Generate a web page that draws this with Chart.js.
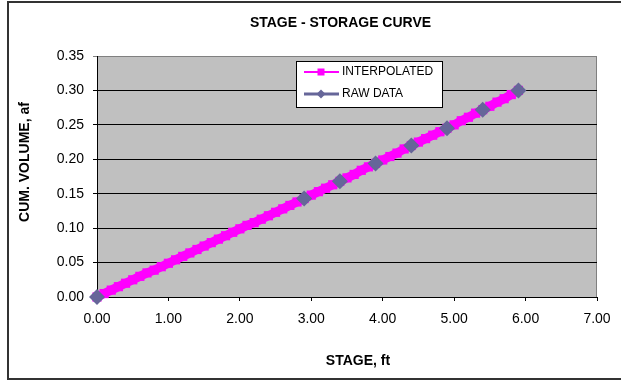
<!DOCTYPE html>
<html>
<head>
<meta charset="utf-8">
<script src="https://cdn.jsdelivr.net/npm/chart.js@4/dist/chart.umd.min.js"></script>
<style>
  html, body { margin: 0; padding: 0; background: #fff; }
  canvas { display: block; }
</style>
</head>
<body>
<canvas id="stageChart" width="621" height="381"></canvas>
<script>
// raw survey points, stage (ft) vs cumulative volume (af)
const rawStage = [0.0, 2.9, 3.4, 3.9, 4.4, 4.9, 5.4, 5.9];
const rawVolume = [0.000, 0.143, 0.168, 0.194, 0.220, 0.245, 0.272, 0.300];

// interpolated table
const interpStage = [
    0.0, 0.1, 0.2, 0.3, 0.4, 0.5, 0.6, 0.7, 0.8, 0.9,
    1.0, 1.1, 1.2, 1.3, 1.4, 1.5, 1.6, 1.7, 1.8, 1.9,
    2.0, 2.1, 2.2, 2.3, 2.4, 2.5, 2.6, 2.7, 2.8, 2.9,
    3.0, 3.1, 3.2, 3.3, 3.4, 3.5, 3.6, 3.7, 3.8, 3.9,
    4.0, 4.1, 4.2, 4.3, 4.4, 4.5, 4.6, 4.7, 4.8, 4.9,
    5.0, 5.1, 5.2, 5.3, 5.4, 5.5, 5.6, 5.7, 5.8, 5.9,
];
const interpVolume = [
    0.000, 0.005, 0.010, 0.015, 0.020, 0.025, 0.030, 0.035, 0.039, 0.044,
    0.049, 0.054, 0.059, 0.064, 0.069, 0.074, 0.079, 0.084, 0.089, 0.094,
    0.099, 0.104, 0.108, 0.113, 0.118, 0.123, 0.128, 0.133, 0.138, 0.143,
    0.148, 0.153, 0.158, 0.163, 0.168, 0.173, 0.178, 0.184, 0.189, 0.194,
    0.199, 0.204, 0.209, 0.215, 0.220, 0.225, 0.230, 0.235, 0.240, 0.245,
    0.250, 0.256, 0.261, 0.267, 0.272, 0.277, 0.283, 0.288, 0.294, 0.300,
];

const xTicks = [0, 1, 2, 3, 4, 5, 6, 7];
const yTicks = [0, 0.05, 0.10, 0.15, 0.20, 0.25, 0.30, 0.35];

const FONT = '"Liberation Sans", Arial, sans-serif';

const rawPoints = rawStage.map((x, i) => ({ x: x, y: rawVolume[i] })),
    interpPoints = interpStage.map((x, i) => ({ x: x, y: interpVolume[i] }));

// background, frame, titles and the boxed legend
const excelLook = {
    id: 'excelLook',
    beforeDraw(chart) {
        const ctx = chart.ctx, a = chart.chartArea;
        ctx.save();
        ctx.fillStyle = '#fff';
        ctx.fillRect(0, 0, chart.width, chart.height);
        // outer chart border
        ctx.strokeStyle = '#333';
        ctx.lineWidth = 2;
        ctx.strokeRect(8, 2, chart.width + 10, 377);
        // plot area
        ctx.fillStyle = '#c0c0c0';
        ctx.fillRect(a.left, a.top, a.right - a.left, a.bottom - a.top);
        ctx.strokeStyle = '#808080';
        ctx.lineWidth = 1;
        ctx.strokeRect(a.left + 0.5, a.top + 0.5, a.right - a.left - 1, a.bottom - a.top);
        ctx.restore();
    },
    afterDraw(chart) {
        const ctx = chart.ctx;
        ctx.save();
        ctx.fillStyle = '#000';
        ctx.font = 'bold 14px ' + FONT;
        ctx.textAlign = 'center';
        ctx.textBaseline = 'middle';
        ctx.fillText('STAGE - STORAGE CURVE', 340.5, 23);
        ctx.fillText('STAGE, ft', 358, 361);
        ctx.translate(25, 162);
        ctx.rotate(-Math.PI / 2);
        ctx.fillText('CUM. VOLUME, af', 0, 0);
        ctx.restore();

        // legend box
        ctx.save();
        ctx.fillStyle = '#fff';
        ctx.fillRect(296, 61, 146, 46);
        ctx.strokeStyle = '#000';
        ctx.lineWidth = 1;
        ctx.strokeRect(296.5, 61.5, 146, 46);

        ctx.strokeStyle = '#ff00ff';
        ctx.lineWidth = 2;
        ctx.beginPath();
        ctx.moveTo(304, 72);
        ctx.lineTo(339, 72);
        ctx.stroke();
        ctx.fillStyle = '#ff00ff';
        ctx.fillRect(317.5, 68.5, 7, 7);

        ctx.strokeStyle = '#666699';
        ctx.lineWidth = 3;
        ctx.beginPath();
        ctx.moveTo(304, 94);
        ctx.lineTo(339, 94);
        ctx.stroke();
        ctx.fillStyle = '#666699';
        ctx.beginPath();
        ctx.moveTo(321, 89.5);
        ctx.lineTo(325.5, 94);
        ctx.lineTo(321, 98.5);
        ctx.lineTo(316.5, 94);
        ctx.closePath();
        ctx.fill();

        ctx.fillStyle = '#000';
        ctx.font = '12px ' + FONT;
        ctx.textAlign = 'left';
        ctx.textBaseline = 'middle';
        ctx.fillText('INTERPOLATED', 342, 72);
        ctx.fillText('RAW DATA', 342, 94);
        ctx.restore();
    },
};

const stageChart = new Chart(document.querySelector('#stageChart'), {
    type: 'scatter',
    data: {
        datasets: [
            {
                label: 'RAW DATA',
                data: rawPoints,
                showLine: false,
                pointStyle: 'rectRot',
                pointRadius: 8,
                pointBorderWidth: 0,
                backgroundColor: '#666699',
                borderColor: '#666699',
                clip: false,
                order: 0,
            },
            {
                label: 'INTERPOLATED',
                data: interpPoints,
                showLine: true,
                borderColor: '#ff00ff',
                borderWidth: 9,
                pointStyle: 'rect',
                pointRadius: 6.5,
                pointBorderWidth: 0,
                backgroundColor: '#ff00ff',
                clip: false,
                order: 1,
            },
        ],
    },
    options: {
        responsive: false,
        animation: false,
        events: [],
        layout: { padding: { top: 56, left: 8, right: 24, bottom: 2 } },
        plugins: {
            legend: { display: false },
            tooltip: { enabled: false },
        },
        scales: {
            x: {
                type: 'linear',
                min: 0,
                max: 7,
                afterBuildTicks: s => { s.ticks = xTicks.map(v => ({ value: v })); },
                afterFit: s => { s.height = 82; },
                ticks: {
                    callback: v => v.toFixed(2),
                    color: '#000',
                    font: { family: FONT, size: 14 },
                    padding: 10,
                    maxRotation: 0,
                },
                grid: { drawOnChartArea: false, color: '#000', tickLength: 4 },
                border: { color: '#000' },
            },
            y: {
                type: 'linear',
                min: 0,
                max: 0.35,
                afterBuildTicks: s => { s.ticks = yTicks.map(v => ({ value: v })); },
                afterFit: s => { s.width = 89; },
                ticks: {
                    callback: v => v.toFixed(2),
                    color: '#000',
                    font: { family: FONT, size: 14 },
                    padding: 9,
                },
                grid: {
                    color: c => (c.tick && c.tick.value >= 0.35 ? '#808080' : '#000'),
                    tickLength: 4,
                },
                border: { color: '#000' },
            },
        },
    },
    plugins: [excelLook],
});
</script>
</body>
</html>
